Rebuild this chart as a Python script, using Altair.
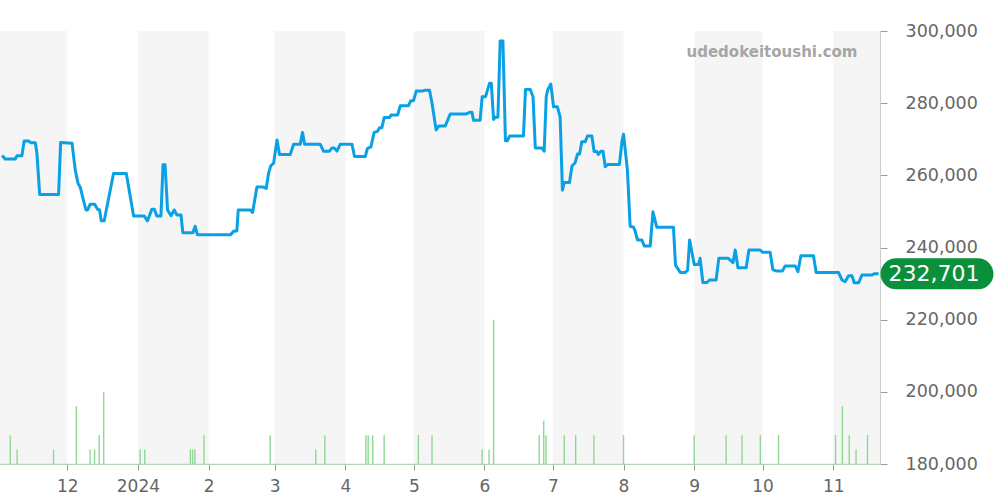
import altair as alt
import pandas as pd

BASE = "2023-12-01"

# price series: day offset from 2023-12-01, price (JPY)
price_day = [-28.6, -27.2, -22.8, -22.1, -19.9, -18.9, -17, -15.9, -14, -13.3, -12.1, -3.8, -2.9, 2.1,
             3.5, 4.7, 5.7, 6.9, 8.2, 8.9, 10.1, 12, 13.3, 14.2, 14.9, 16.2, 20.3, 25.9, 29.1, 33.8,
             35.2, 37.1, 38.2, 39.3, 41.1, 42, 42.9, 44, 45.5, 46.9, 48.1, 49.9, 50.7, 55.1, 56.1, 57.1,
             71.5, 73.2, 74.4, 75, 80.3, 81.3, 83.2, 85.8, 87.3, 88.3, 89.3, 90.5, 92, 93.1, 97.8, 99.3,
             102.2, 103.2, 104.1, 111, 112.4, 115, 116.1, 117.1, 118.3, 119.7, 124.9, 126, 130.7, 131.7,
             133.2, 134.6, 136.1, 137, 138, 139, 141.4, 142, 144.9, 146.1, 149.7, 150.7, 151.9, 153.1,
             156, 157, 158.9, 160, 161.8, 163, 165.8, 168, 175, 176.8, 177.5, 178.2, 181.1, 182, 183.5,
             185.2, 186, 187, 187.8, 188.9, 189.9, 191.1, 192.2, 193.1, 194, 200.1, 201, 203.1, 204.3,
             205.3, 208.2, 209.2, 210.1, 210.7, 212.1, 213.3, 215, 216.2, 217.2, 218, 220.3, 221.4, 222.8,
             223.8, 224.7, 225.7, 227.2, 228.2, 230.1, 231.1, 232.3, 233, 234.1, 235, 236, 237, 242.2,
             243.3, 244, 245.7, 246.9, 248.4, 249.1, 250.1, 252, 253.1, 255.7, 256.9, 258.6, 265.9, 266.8,
             268.9, 271.1, 272.1, 273, 275, 276.9, 277.6, 278.8, 280.6, 281.7, 284.6, 285.8, 290, 292,
             293, 294.2, 297.8, 299, 303.9, 304.9, 308.3, 309.5, 310.9, 313.7, 314.9, 319.3, 320.5, 321.8,
             327.3, 328.5, 338.3, 339.8, 341.2, 342.7, 344.2, 345.2, 347.1, 348.6, 353, 354, 355.9]
price_val = [265500, 264500, 264500, 265400, 265400, 269500, 269500, 269000, 269000, 266100, 254700, 254700, 269100, 268900,
             261500, 257800, 256700, 253600, 250400, 250400, 252000, 252000, 250600, 250400, 247400, 247400, 260500, 260500, 248700, 248700,
             247400, 250600, 250600, 248700, 248700, 262900, 262900, 250400, 248800, 250400, 249000, 249000, 244100, 244100, 245900, 243500,
             243500, 244600, 244600, 250400, 250400, 249700, 256800, 256800, 256400, 260600, 262700, 263300, 269800, 265800, 265800, 268600,
             268600, 271900, 268600, 268600, 266700, 266700, 267600, 267600, 266700, 268600, 268600, 265200, 265200, 267500,
             267900, 271900, 272200, 273200, 273200, 276000, 276000, 276700, 276700, 279300, 279300, 280700, 280700, 283400,
             283400, 283600, 283600, 280000, 272600, 273700, 273700, 277000, 277000, 277500, 277500, 275300, 275300, 281800, 281800,
             285500, 285500, 275500, 276100, 276100, 297200, 297200, 269600, 269600, 270900, 270900, 283800, 283800, 281800,
             267600, 267600, 266700, 281800, 283600, 285300, 279000, 279000, 276100, 255900, 258000, 258000, 262600, 263500,
             265900, 265900, 269300, 269300, 270900, 270900, 266600, 266600, 265800, 266700, 266700, 262400, 263000, 263000,
             269300, 271400, 261500, 245900, 245600, 244600, 242100, 242100, 240400, 240400, 249900, 245600, 245600, 235100,
             233100, 233100, 233700, 242100, 235300, 235300, 237000, 230300, 230300, 231000, 231000, 237000, 237000, 235800,
             239300, 234400, 234400, 239300, 239300, 238700, 238700, 233900, 233500, 233500, 234900, 234900, 233300, 237700,
             237700, 233100, 233100, 231000, 230500, 232200, 232200, 230200, 230200, 232400, 232400, 232700, 232701]

# trading volume: day offset from 2023-12-01, count
vol_day = [-25, -22, -6, 4, 10, 12, 14, 16, 32, 34, 54, 55, 56, 60, 89, 109, 113, 131, 132, 134, 139, 154, 160,
           182, 185, 187, 207, 209, 210, 218, 223, 231, 244, 275, 289, 296, 304, 312, 337, 340, 343, 346, 351]
vol_qty = [2, 1, 1, 4, 1, 1, 2, 5, 1, 1, 1, 1, 1, 2, 2, 1, 2, 2, 2, 2, 2, 2, 2,
           1, 1, 10, 2, 3, 2, 2, 2, 2, 2, 2, 2, 2, 2, 2, 2, 4, 2, 1, 2]

# shaded months
shade_start = ["2023-11-01T12:00:00", "2024-01-01T00:00:00", "2024-03-01T00:00:00", "2024-05-01T00:00:00",
               "2024-07-01T00:00:00", "2024-09-01T00:00:00", "2024-11-01T00:00:00"]
shade_end = ["2023-12-01T00:00:00", "2024-02-01T00:00:00", "2024-04-01T00:00:00", "2024-06-01T00:00:00",
             "2024-08-01T00:00:00", "2024-10-01T00:00:00", "2024-11-21T12:00:00"]

tick_months = [(2023, 12)] + [(2024, m) for m in range(1, 12)]
price_ticks = [180000, 200000, 220000, 240000, 260000, 280000, 300000]
WATERMARK = "udedokeitoushi.com"

base = pd.Timestamp(BASE)
price_df = pd.DataFrame({"date": base + pd.to_timedelta(price_day, unit="D"), "price": price_val})
vol_df = pd.DataFrame({"date": base + pd.to_timedelta(vol_day, unit="D"), "qty": vol_qty, "zero": 0})
shade_df = pd.DataFrame({"start": pd.to_datetime(shade_start), "end": pd.to_datetime(shade_end)})
last_df = price_df.tail(1)
wm_df = pd.DataFrame({"t": [WATERMARK]})
zero_df = pd.DataFrame({"start": [pd.Timestamp(shade_start[0])], "end": [pd.Timestamp(shade_end[-1])], "zero": [0]})

FONT = "DejaVu Sans"
xdom = [alt.DateTime(year=2023, month=11, date=1, hours=12), alt.DateTime(year=2024, month=11, date=21, hours=12)]
xscale = alt.Scale(domain=xdom)
xaxis = alt.Axis(
    values=[alt.DateTime(year=y, month=m, date=1) for y, m in tick_months],
    labelExpr="month(datum.value) == 0 ? timeFormat(datum.value, '%Y') : timeFormat(datum.value, '%-m')",
    title=None, grid=False, labelFontSize=17, labelColor="#666666", labelFont=FONT,
    tickSize=6, tickColor="#999999", domainColor="#cccccc", labelPadding=8,
)

bands = alt.Chart(shade_df).mark_rect(color="#f5f5f5").encode(
    x=alt.X("start:T", scale=xscale, axis=xaxis), x2="end:T"
)
vscale = alt.Scale(domain=[0, 30], nice=False)
vol = alt.Chart(vol_df).mark_rule(color="#8fd894", strokeWidth=1.4).encode(
    x=alt.X("date:T", scale=xscale),
    y=alt.Y("zero:Q", scale=vscale, axis=None),
    y2="qty:Q",
)
baseline = alt.Chart(zero_df).mark_rule(color="#8fd894", strokeWidth=1.5, strokeDash=[1, 1], opacity=0.5).encode(
    x=alt.X("start:T", scale=xscale), x2="end:T",
    y=alt.Y("zero:Q", scale=vscale, axis=None),
)
vol_group = alt.layer(bands, vol, baseline)

pscale = alt.Scale(domain=[180000, 300000], nice=False, zero=False)
yaxis = alt.Axis(
    orient="right", values=price_ticks, format=",.0f", title=None,
    labelFontSize=17.5, labelColor="#666666", labelFont=FONT,
    gridColor="#e2e2e2", tickColor="#999999", tickSize=7, domainColor="#cccccc", labelPadding=18,
)
line = alt.Chart(price_df).mark_line(color="#09a0e6", strokeWidth=3, strokeJoin="round").encode(
    x=alt.X("date:T", scale=xscale),
    y=alt.Y("price:Q", scale=pscale, axis=yaxis),
)
pill = alt.Chart(last_df).mark_rule(color="#0a8f3b", strokeWidth=31, strokeCap="round").encode(
    x=alt.value(896), x2=alt.value(978), y=alt.Y("price:Q", scale=pscale)
)
label = alt.Chart(last_df).mark_text(color="white", fontSize=22, font=FONT, align="center", baseline="middle").encode(
    x=alt.value(934), y=alt.Y("price:Q", scale=pscale), text=alt.Text("price:Q", format=",.0f")
)
wm = alt.Chart(wm_df).mark_text(color="#a6a6a6", fontSize=15, fontWeight="bold", font=FONT, align="center", baseline="middle").encode(
    x=alt.value(772), y=alt.value(21), text="t:N"
)
price_group = alt.layer(line, pill, label, wm)

chart = alt.layer(vol_group, price_group).resolve_scale(y="independent").properties(
    width=880, height=433,
    autosize="none",
    padding={"left": 0, "top": 31, "right": 120, "bottom": 36},
).configure_view(stroke=None)

chart.save("out.html", embed_options={"renderer": "svg", "actions": False})
